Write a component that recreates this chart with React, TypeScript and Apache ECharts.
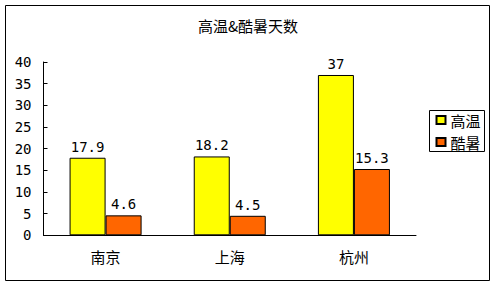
import React, { useEffect, useRef } from "react";
import * as echarts from "echarts";

const title = "高温&酷暑天数";
const categories = ["南京", "上海", "杭州"];
const seriesNames = ["高温", "酷暑"];
const hotDays = [17.9, 18.2, 37];
const extremeDays = [4.6, 4.5, 15.3];
const seriesColors = ["#FFFF00", "#FF6600"];

const CJK = "'Noto Sans CJK SC', sans-serif";
const MONO = "'DejaVu Sans Mono', monospace";

export default function App() {
  const ref = useRef<HTMLDivElement>(null);
  useEffect(() => {
    if (!ref.current) return;
    const chart = echarts.init(ref.current, null, { renderer: "svg" });
    const mkSeries = (name: string, data: number[], color: string) => ({
      name,
      type: "bar",
      data,
      barGap: "0%",
      barCategoryGap: "42%",
      itemStyle: { color, borderColor: "#000", borderWidth: 1 },
      label: {
        show: true,
        position: "top",
        distance: 4,
        color: "#000",
        fontFamily: MONO,
        fontSize: 14,
      },
    });
    chart.setOption({
      animation: false,
      backgroundColor: "#fff",
      title: {
        text: title,
        left: "center",
        top: 13,
        textStyle: { fontFamily: CJK, fontSize: 15, fontWeight: "normal", color: "#000" },
      },
      graphic: [
        {
          type: "rect",
          shape: { x: 5.5, y: 5.5, width: 484, height: 275 },
          style: { fill: "none", stroke: "#000", lineWidth: 1 },
          silent: true,
        },
      ],
      legend: {
        orient: "vertical",
        left: 429.5,
        top: 110.5,
        padding: [1, 4, 1, 6],
        itemGap: 5,
        itemWidth: 9,
        itemHeight: 8,
        icon: "rect",
        borderColor: "#000",
        borderWidth: 1,
        backgroundColor: "#fff",
        textStyle: {
          fontFamily: CJK,
          fontSize: 15,
          lineHeight: 17,
          color: "#000",
        },
        data: seriesNames,
      },
      grid: { left: 43.5, right: 80, top: 62, bottom: 50.7, containLabel: false },
      xAxis: {
        type: "category",
        data: categories,
        axisLine: { lineStyle: { color: "#000", width: 1 } },
        axisTick: { inside: true, length: 4, lineStyle: { color: "#000" } },
        axisLabel: { fontFamily: CJK, fontSize: 15, color: "#000", margin: 14 },
      },
      yAxis: {
        type: "value",
        min: 0,
        max: 40,
        interval: 5,
        axisLine: { show: true, lineStyle: { color: "#000", width: 1 } },
        axisTick: { show: true, inside: true, length: 4, lineStyle: { color: "#000" } },
        splitLine: { show: false },
        axisLabel: { fontFamily: MONO, fontSize: 14, color: "#000", margin: 12 },
      },
      series: [
        mkSeries(seriesNames[0], hotDays, seriesColors[0]),
        mkSeries(seriesNames[1], extremeDays, seriesColors[1]),
      ],
    });
    return () => chart.dispose();
  }, []);
  return (
    <div
      ref={ref}
      style={{ position: "fixed", left: 0, top: 0, width: 496, height: 286, background: "#fff" }}
    />
  );
}
